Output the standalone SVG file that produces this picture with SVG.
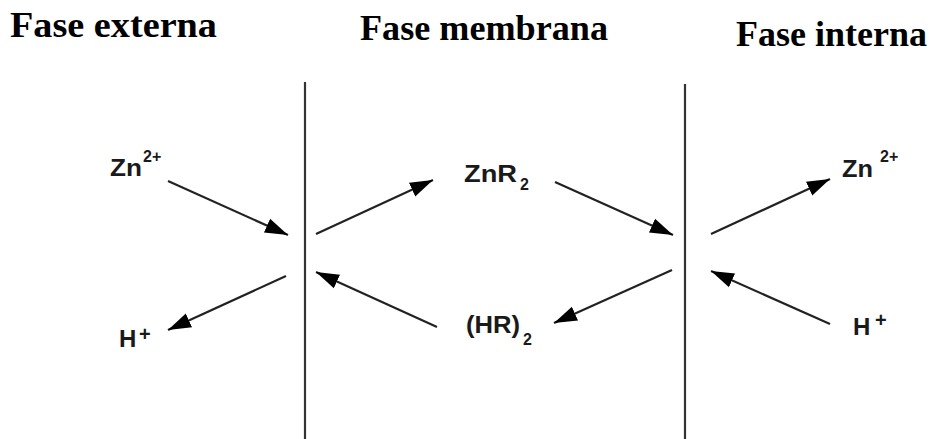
<svg xmlns="http://www.w3.org/2000/svg" width="933" height="439" viewBox="0 0 933 439">
  <style>
    .title { font-family: "Liberation Serif", "Times New Roman", serif; font-weight: bold; font-size: 36px; fill: #000; }
    .lbl { font-family: "Liberation Sans", Arial, sans-serif; font-weight: bold; font-size: 24px; fill: #1a1a1a; }
    .sup { font-family: "Liberation Sans", Arial, sans-serif; font-weight: bold; font-size: 16px; fill: #1a1a1a; }
    .plus { font-family: "Liberation Sans", Arial, sans-serif; font-weight: bold; font-size: 20px; fill: #1a1a1a; }
    .wall { stroke: #333; stroke-width: 2.2; fill: none; }
    .arrow { stroke: #222; stroke-width: 2.2; fill: none; marker-end: url(#head); }
  </style>
  <defs>
    <marker id="head" markerUnits="userSpaceOnUse" markerWidth="25" markerHeight="18" viewBox="0 0 25 18" refX="23" refY="9" orient="auto">
      <path d="M0,1.5 L23,9 L0,16.5 Z" fill="#000"/>
    </marker>
  </defs>
  <rect width="933" height="439" fill="#fff"/>

  <!-- phase headings -->
  <g id="heading-externa"><text class="title" x="10" y="37" textLength="207" lengthAdjust="spacingAndGlyphs">Fase externa</text></g>
  <g id="heading-membrana"><text class="title" x="360" y="40" textLength="248" lengthAdjust="spacingAndGlyphs">Fase membrana</text></g>
  <g id="heading-interna"><text class="title" x="736" y="46" textLength="191" lengthAdjust="spacingAndGlyphs">Fase interna</text></g>

  <!-- membrane walls -->
  <g id="walls">
    <line class="wall" x1="305" y1="82" x2="305" y2="439"/>
    <line class="wall" x1="685" y1="84" x2="685" y2="439"/>
  </g>

  <!-- species -->
  <g id="zn-externa">
    <text class="lbl" x="110" y="176" textLength="32" lengthAdjust="spacingAndGlyphs">Zn</text>
    <text class="sup" x="143" y="162">2+</text>
  </g>
  <g id="h-externa">
    <text class="lbl" x="119" y="347">H</text>
    <text class="plus" x="139" y="341">+</text>
  </g>
  <g id="znr2">
    <text class="lbl" x="464" y="182" textLength="53" lengthAdjust="spacingAndGlyphs">ZnR</text>
    <text class="sup" x="520" y="190">2</text>
  </g>
  <g id="hr2">
    <text class="lbl" x="466" y="333" textLength="54" lengthAdjust="spacingAndGlyphs">(HR)</text>
    <text class="sup" x="523" y="345">2</text>
  </g>
  <g id="zn-interna">
    <text class="lbl" x="842" y="177" textLength="31" lengthAdjust="spacingAndGlyphs">Zn</text>
    <text class="sup" x="880" y="162">2+</text>
  </g>
  <g id="h-interna">
    <text class="lbl" x="853" y="335">H</text>
    <text class="plus" x="875" y="327">+</text>
  </g>

  <!-- transport arrows -->
  <g id="connectors">
    <line class="arrow" x1="168" y1="181" x2="288" y2="235"/>
    <line class="arrow" x1="286" y1="276" x2="168" y2="330"/>
    <line class="arrow" x1="316" y1="234" x2="433" y2="180"/>
    <line class="arrow" x1="437" y1="327" x2="316" y2="272"/>
    <line class="arrow" x1="555" y1="182" x2="673" y2="235"/>
    <line class="arrow" x1="672" y1="270" x2="554" y2="323"/>
    <line class="arrow" x1="711" y1="234" x2="830" y2="179"/>
    <line class="arrow" x1="830" y1="324" x2="711" y2="271"/>
  </g>
</svg>
